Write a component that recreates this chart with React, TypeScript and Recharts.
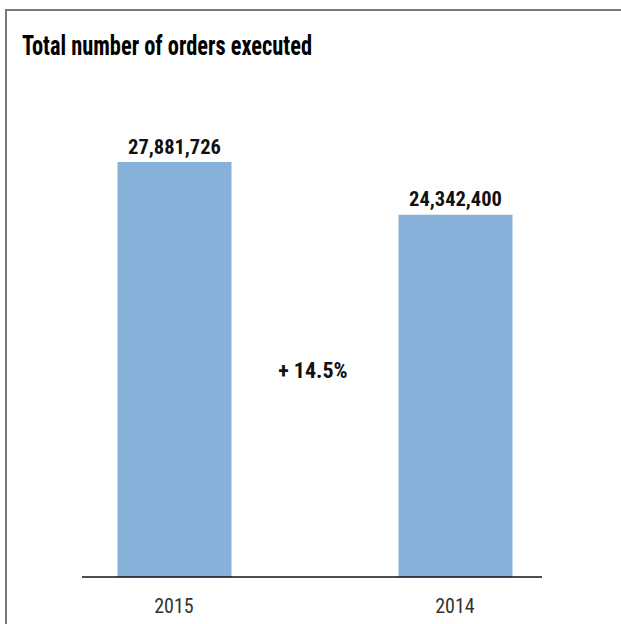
import React from "react";
import { BarChart, Bar, XAxis, YAxis, LabelList } from "recharts";

const years = ["2015", "2014"];
const orders = [27881726, 24342400];
const changeLabel = "+ 14.5%";
const title = "Total number of orders executed";

const data = years.map((y, i) => ({ year: y, orders: orders[i] }));

const FONT = "'Liberation Sans Narrow', 'Arial Narrow', 'Roboto Condensed', 'Liberation Sans', Arial, sans-serif";

const fmt = (v: number) => v.toLocaleString("en-US");

const ValueLabel = (props: any) => {
  const { x, y, width, value } = props;
  return (
    <text
      x={Number(x) + Number(width) / 2}
      y={Number(y) - 8.5}
      textAnchor="middle"
      fontFamily={FONT}
      fontSize={20.5}
      fontWeight="bold"
      fill="#111"
    >
      {fmt(Number(value))}
    </text>
  );
};

export default function App() {
  return (
    <div style={{ position: "relative", width: 621, height: 624, overflow: "hidden", background: "#fff" }}>
      <style>{"html,body{margin:0;padding:0;overflow:hidden;}"}</style>
      <div style={{ position: "absolute", left: 0, top: 0 }}>
        <BarChart
          width={621}
          height={624}
          data={data}
          margin={{ top: 130.5, right: 25.5, bottom: 7, left: 33.5 }}
        >
          <YAxis hide domain={[0, 30000000]} />
          <XAxis
            dataKey="year"
            axisLine={false}
            tickLine={false}
            tickSize={0}
            tickMargin={21.5}
            height={40}
            tick={{ fontSize: 20, fill: "#333", fontFamily: FONT }}
          />
          <Bar dataKey="orders" fill="#87b1d9" barSize={114} isAnimationActive={false}>
            <LabelList dataKey="orders" content={ValueLabel} />
          </Bar>
        </BarChart>
      </div>
      <svg width={621} height={624} style={{ position: "absolute", left: 0, top: 0, pointerEvents: "none" }}>
        <line x1={5} x2={621} y1={10} y2={10} stroke="#7a7a7a" strokeWidth={2} />
        <line x1={6} x2={6} y1={9} y2={624} stroke="#7a7a7a" strokeWidth={2} />
        <text
          x={22}
          y={55}
          fontFamily={FONT}
          fontSize={27}
          fontWeight="bold"
          fill="#000"
          textLength={290}
          lengthAdjust="spacingAndGlyphs"
        >
          {title}
        </text>
        <line x1={82} x2={542} y1={577} y2={577} stroke="#111" strokeWidth={1.5} />
        <text
          x={313}
          y={378}
          textAnchor="middle"
          fontFamily={FONT}
          fontSize={22}
          fontWeight="bold"
          fill="#111"
        >
          {changeLabel}
        </text>
      </svg>
    </div>
  );
}
